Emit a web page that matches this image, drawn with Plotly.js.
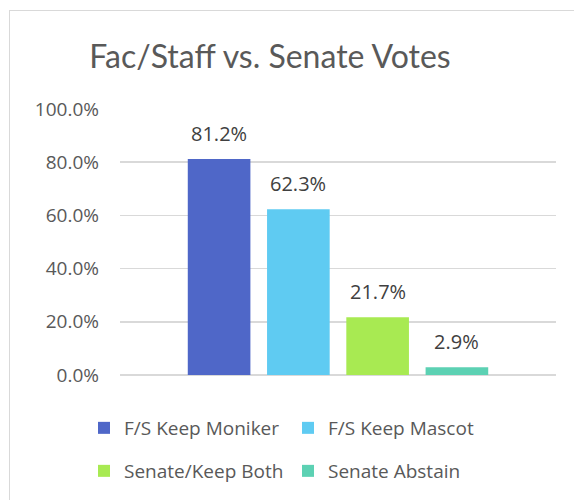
<!DOCTYPE html>
<html>
<head>
<meta charset="utf-8">
<script src="https://cdn.plot.ly/plotly-3.0.1.min.js"></script>
<style>
  html, body { margin: 0; padding: 0; background: #fff; }
  #wrap { position: relative; width: 574px; height: 500px; overflow: hidden; }
  #chart { position: absolute; left: 0; top: 0; width: 574px; height: 500px; }
  #frame { position: absolute; left: 9px; top: 10px; width: 600px; height: 520px;
           border: 1.5px solid #d9d9d9; pointer-events: none; box-sizing: border-box; }
</style>
</head>
<body>
<div id="wrap">
  <div id="chart"></div>
  <div id="frame"></div>
</div>
<script>
const titleText = "Fac/Staff vs. Senate Votes";
const seriesNames = ["F/S Keep Moniker", "F/S Keep Mascot", "Senate/Keep Both", "Senate Abstain"];
const seriesValues = [0.812, 0.623, 0.217, 0.029];
const seriesColors = ["#4f67c8", "#5fcbf2", "#a8ea52", "#5cd1b3"];
const tickValues = [0, 0.2, 0.4, 0.6, 0.8, 1.0];
const tickLabels = ["0.0%", "20.0%", "40.0%", "60.0%", "80.0%", "100.0%"];

const TITLE_FONT = "Lato, 'Open Sans', sans-serif";
const FONT = "'Open Sans', Lato, sans-serif";

const traces = seriesNames.map((name, i) => ({
  type: "bar",
  name: name,
  x: [i],
  y: [seriesValues[i]],
  width: 0.79,
  marker: { color: seriesColors[i], line: { width: 0 } },
  hoverinfo: "skip",
  legend: i < 2 ? "legend" : "legend2"
}));

const annotations = seriesValues.map((v, i) => ({
  x: i, y: v, xref: "x", yref: "y",
  text: (v * 100).toFixed(1) + "%",
  showarrow: false,
  yanchor: "bottom",
  yshift: 10,
  font: { family: FONT, size: 20, color: "#404040" }
}));

const legendCommon = {
  orientation: "h",
  xanchor: "left",
  yanchor: "middle",
  xref: "container",
  yref: "container",
  entrywidth: 159,
  font: { family: FONT, size: 19, color: "#595959" },
  bgcolor: "rgba(0,0,0,0)",
  traceorder: "normal"
};

const layout = {
  width: 574,
  height: 500,
  margin: { l: 120, r: 18, t: 109, b: 125 },
  paper_bgcolor: "rgba(0,0,0,0)",
  plot_bgcolor: "rgba(0,0,0,0)",
  barmode: "overlay",
  showlegend: true,
  title: {
    text: titleText,
    xref: "container", yref: "container",
    x: 270 / 574, xanchor: "center",
    y: 1 - 57 / 500, yanchor: "middle",
    font: { family: TITLE_FONT, size: 32, color: "#595959" }
  },
  xaxis: {
    range: [-1.25, 4.25],
    showticklabels: false,
    showgrid: false,
    zeroline: false,
    showline: false,
    ticks: "",
    fixedrange: true
  },
  yaxis: {
    range: [0, 1.0],
    tickvals: tickValues,
    ticktext: tickLabels,
    showgrid: true,
    gridcolor: "#d9d9d9",
    gridwidth: 1.5,
    zeroline: true,
    zerolinecolor: "#d9d9d9",
    zerolinewidth: 1.5,
    showline: false,
    ticks: "",
    ticklabelstandoff: 20,
    tickfont: { family: FONT, size: 19, color: "#595959" },
    fixedrange: true
  },
  legend: Object.assign({}, legendCommon, { x: 84 / 574, y: 1 - 428 / 500 }),
  legend2: Object.assign({}, legendCommon, { x: 84 / 574, y: 1 - 471 / 500 }),
  annotations: annotations
};

Plotly.newPlot("chart", traces, layout, { displayModeBar: false, staticPlot: true });
</script>
</body>
</html>
